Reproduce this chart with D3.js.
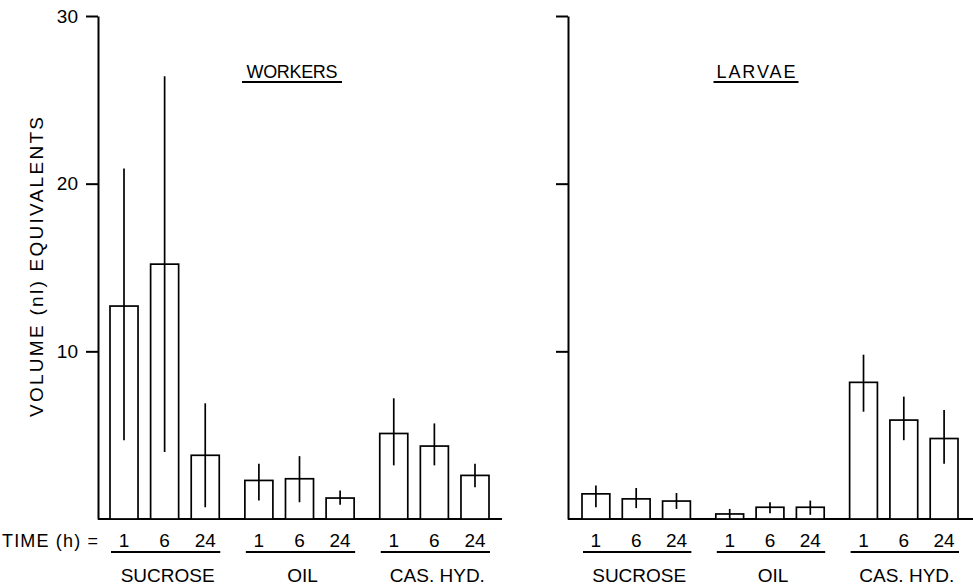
<!DOCTYPE html>
<html>
<head>
<meta charset="utf-8">
<script src="https://cdn.jsdelivr.net/npm/d3@7"></script>
<style>
  html, body { margin: 0; padding: 0; background: #fff; }
  svg { display: block; }
  text { font-family: "Liberation Sans", Arial, sans-serif; fill: #000; }
</style>
</head>
<body>
<svg id="chart" width="973" height="585"></svg>
<script>
// ---- data ----
const categories = ["SUCROSE", "OIL", "CAS. HYD."];
const times = ["1", "6", "24"];
const yTicks = [10, 20, 30];
const yTickLabels = ["10", "20", "30"];

// WORKERS: mean and error-bar ends, order: sucrose 1,6,24; oil 1,6,24; cas.hyd 1,6,24
const workersMean = [12.7, 15.2, 3.8, 2.3, 2.4, 1.25, 5.1, 4.35, 2.6];
const workersLow  = [4.7, 4.0, 0.7, 1.1, 1.0, 0.85, 3.2, 3.2, 1.9];
const workersHigh = [20.9, 26.4, 6.9, 3.3, 3.75, 1.7, 7.2, 5.7, 3.3];

// LARVAE
const larvaeMean = [1.5, 1.2, 1.07, 0.3, 0.7, 0.7, 8.15, 5.9, 4.8];
const larvaeLow  = [0.7, 0.65, 0.6, 0.0, 0.35, 0.25, 6.4, 4.7, 3.3];
const larvaeHigh = [2.0, 1.85, 1.55, 0.6, 1.0, 1.1, 9.8, 7.3, 6.5];

// ---- drawing ----
const svg = d3.select("#chart");
const y = d3.scaleLinear().domain([0, 30]).range([519, 16]);

function panel(opts) {
  const g = svg.append("g");
  const gx = d3.scaleBand().domain(categories)
    .range([opts.barsStart, opts.barsEnd]).paddingInner(0.19).paddingOuter(0);
  const tx = d3.scaleBand().domain(times)
    .range([0, gx.bandwidth()]).paddingInner(0.31).paddingOuter(0);

  // y axis
  const axis = d3.axisLeft(y).tickValues(yTicks).tickSize(12).tickSizeOuter(0).tickPadding(8)
    .tickFormat((d, i) => opts.labels ? yTickLabels[i] : "");
  const ag = g.append("g").attr("transform", `translate(${opts.axisX},0)`).call(axis);
  ag.select(".domain").attr("stroke", "#000").attr("stroke-width", 2);
  ag.selectAll(".tick line").attr("stroke", "#000").attr("stroke-width", 2);
  ag.selectAll(".tick text").style("font-size", "19px")
    .style("font-family", "'Liberation Sans', Arial, sans-serif").attr("fill", "#000");

  // baseline
  g.append("line").attr("x1", opts.axisX).attr("x2", opts.baseEnd)
    .attr("y1", y(0)).attr("y2", y(0)).attr("stroke", "#000").attr("stroke-width", 2);

  const rows = [];
  categories.forEach((c, ci) => times.forEach((t, ti) => {
    const k = ci * times.length + ti;
    rows.push({ c, t, m: opts.mean[k], lo: opts.low[k], hi: opts.high[k] });
  }));

  const bx = d => gx(d.c) + tx(d.t);
  g.selectAll("rect.bar").data(rows).join("rect").attr("class", "bar")
    .attr("x", d => bx(d)).attr("width", tx.bandwidth())
    .attr("y", d => y(d.m)).attr("height", d => y(0) - y(d.m))
    .attr("fill", "#fff").attr("stroke", "#000").attr("stroke-width", 1.7);

  g.selectAll("line.err").data(rows).join("line").attr("class", "err")
    .attr("x1", d => bx(d) + tx.bandwidth() / 2).attr("x2", d => bx(d) + tx.bandwidth() / 2)
    .attr("y1", d => y(d.lo)).attr("y2", d => y(d.hi))
    .attr("stroke", "#000").attr("stroke-width", 1.7);

  // time labels
  g.selectAll("text.time").data(rows).join("text").attr("class", "time")
    .attr("x", d => bx(d) + tx.bandwidth() / 2).attr("y", 547)
    .attr("text-anchor", "middle").style("font-size", "19px").text(d => d.t);

  // group underlines
  g.selectAll("line.under").data(categories).join("line").attr("class", "under")
    .attr("x1", d => gx(d) + 1).attr("x2", d => gx(d) + gx.bandwidth() + 1)
    .attr("y1", 552).attr("y2", 552).attr("stroke", "#000").attr("stroke-width", 1.8);

  // group names
  g.selectAll("text.cat").data(categories).join("text").attr("class", "cat")
    .attr("x", d => gx(d) + gx.bandwidth() / 2 + 3).attr("y", 582)
    .attr("text-anchor", "middle").style("font-size", "19px").text(d => d);

  // title
  g.append("text").attr("x", opts.titleX).attr("y", 78)
    .attr("text-anchor", "middle").style("font-size", "18px")
    .attr("textLength", opts.titleLen).attr("lengthAdjust", "spacing").text(opts.title);
  g.append("line").attr("x1", opts.titleX - opts.ulLen / 2).attr("x2", opts.titleX + opts.ulLen / 2)
    .attr("y1", 82).attr("y2", 82).attr("stroke", "#000").attr("stroke-width", 2);
}

panel({ axisX: 98, barsStart: 110, barsEnd: 489, baseEnd: 502, labels: true,
        mean: workersMean, low: workersLow, high: workersHigh,
        title: "WORKERS", titleX: 292, titleLen: 91, ulLen: 100 });
panel({ axisX: 568, barsStart: 582, barsEnd: 958, baseEnd: 973, labels: false,
        mean: larvaeMean, low: larvaeLow, high: larvaeHigh,
        title: "LARVAE", titleX: 756, titleLen: 79, ulLen: 85 });

// y axis title
svg.append("text").attr("transform", "translate(43,267) rotate(-90)")
  .attr("text-anchor", "middle").style("font-size", "19px")
  .attr("textLength", 300).attr("lengthAdjust", "spacing")
  .text("VOLUME (nl) EQUIVALENTS");

// TIME label
svg.append("text").attr("x", 2).attr("y", 547).style("font-size", "18px")
  .attr("textLength", 96).attr("lengthAdjust", "spacing").text("TIME (h) =");
</script>
</body>
</html>
